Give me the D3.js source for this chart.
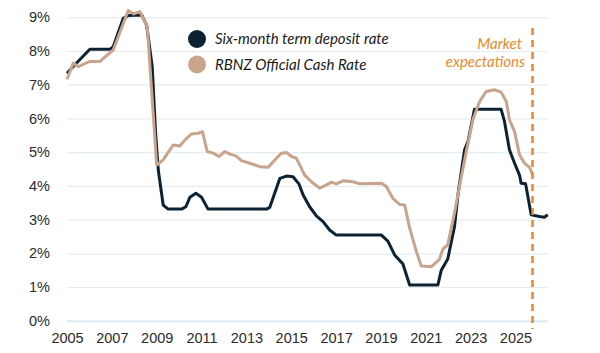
<!DOCTYPE html>
<html lang="en">
<head>
    <meta charset="UTF-8">
    <title>Term deposit rate vs OCR</title>
    <script src="https://d3js.org/d3.v7.min.js"></script>
    <style>
        body {
            margin: 0;
            background: #fff;
            font-family: Lato, "Open Sans", sans-serif;
        }
        svg {
            display: block;
        }
        .tick text {
            font-size: 14.5px;
            fill: #2b2b2b;
        }
        .grid line {
            stroke: #e6edf2;
            stroke-width: 1.2px;
        }
        .legend text {
            font-size: 15px;
            font-style: italic;
            fill: #1a1a1a;
        }
        .note {
            font-size: 15px;
            font-style: italic;
            fill: #e8892b;
        }
    </style>
</head>
<body>
    <svg width="600" height="353"></svg>

    <script>
        // Six-month term deposit rate (dark line)
        const depositYears = [2005.0, 2005.36, 2006.02, 2006.92, 2007.06, 2007.51, 2007.72, 2008.33, 2008.55, 2008.8, 2008.95,
            2009.07, 2009.29, 2009.51, 2010.11, 2010.30, 2010.48, 2010.75, 2011.0, 2011.29, 2013.90, 2014.04,
            2014.49, 2014.79, 2015.08, 2015.35, 2015.53, 2015.82, 2016.12, 2016.42, 2016.71, 2017.01, 2019.02,
            2019.31, 2019.61, 2019.98, 2020.28, 2021.54, 2021.69, 2021.98, 2022.28, 2022.45, 2022.73, 2022.88,
            2023.17, 2024.36, 2024.51, 2024.73, 2024.96, 2025.18, 2025.25, 2025.45, 2025.70, 2026.07, 2026.29, 2026.44];
        const depositRates = [7.34, 7.6, 8.05, 8.05, 8.13, 8.97, 9.05, 9.07, 8.77, 7.54, 5.57,
            4.47, 3.43, 3.31, 3.31, 3.38, 3.66, 3.78, 3.66, 3.31, 3.31, 3.36,
            4.22, 4.29, 4.27, 4.05, 3.73, 3.38, 3.11, 2.94, 2.69, 2.54, 2.54,
            2.36, 1.95, 1.68, 1.06, 1.06, 1.50, 1.83, 2.79, 3.82, 5.07, 5.31,
            6.27, 6.27, 5.91, 5.07, 4.67, 4.32, 4.08, 4.06, 3.14, 3.09, 3.07, 3.14];

        // RBNZ Official Cash Rate (tan line)
        const ocrYears = [2005.0, 2005.28, 2005.50, 2006.02, 2006.47, 2007.06, 2007.73, 2007.98, 2008.25, 2008.58,
            2009.0, 2009.29, 2009.73, 2010.03, 2010.26, 2010.55, 2010.85, 2011.04, 2011.25, 2011.52, 2011.78,
            2012.04, 2012.26, 2012.53, 2012.78, 2013.15, 2013.60, 2013.97, 2014.34, 2014.56, 2014.79, 2015.01,
            2015.23, 2015.60, 2015.90, 2016.27, 2016.57, 2016.79, 2017.01, 2017.31, 2017.75, 2018.05, 2019.02,
            2019.24, 2019.53, 2019.83, 2020.06, 2020.28, 2020.58, 2020.80, 2021.24, 2021.61, 2021.76, 2021.98,
            2022.28, 2022.52, 2022.80, 2023.10, 2023.40, 2023.69, 2024.06, 2024.36, 2024.59, 2024.73, 2024.96,
            2025.18, 2025.40, 2025.63, 2025.77];
        const ocrRates = [7.16, 7.64, 7.54, 7.69, 7.69, 8.03, 9.2, 9.1, 9.17, 8.72,
            4.62, 4.77, 5.21, 5.18, 5.36, 5.54, 5.56, 5.61, 5.02, 4.97, 4.87,
            5.02, 4.94, 4.89, 4.75, 4.67, 4.57, 4.55, 4.82, 4.97, 4.99, 4.87,
            4.82, 4.32, 4.12, 3.93, 4.03, 4.11, 4.06, 4.15, 4.12, 4.06, 4.08,
            3.98, 3.63, 3.45, 3.43, 2.75, 2.05, 1.62, 1.60, 1.82, 2.12, 2.25,
            3.19, 4.05, 5.0, 5.96, 6.50, 6.80, 6.85, 6.78, 6.50, 5.96, 5.61,
            4.92, 4.67, 4.55, 4.32];

        const yearTicks = [2005, 2007, 2009, 2011, 2013, 2015, 2017, 2019, 2021, 2023, 2025];
        const rateTicks = [0, 1, 2, 3, 4, 5, 6, 7, 8, 9];
        const expectationsFrom = 2025.76;

        const svg = d3.select("svg");

        const x = d3.scaleLinear().domain([2005, 2026.45]).range([67, 548]);
        const y = d3.scaleLinear().domain([0, 9]).range([320.7, 17.3]);

        // horizontal gridlines + y labels
        const yAxis = svg.append("g")
            .attr("class", "grid")
            .attr("transform", "translate(67,0)")
            .call(d3.axisLeft(y)
                .tickValues(rateTicks)
                .tickFormat(d => d + "%")
                .tickSize(-(548 - 67))
                .tickPadding(17));
        yAxis.select(".domain").remove();
        yAxis.selectAll(".tick line").filter(d => d === 0).style("stroke", "#dbe8f1").style("stroke-width", "2px");

        // x labels
        const xAxis = svg.append("g")
            .attr("transform", "translate(0,321)")
            .call(d3.axisBottom(x)
                .tickValues(yearTicks)
                .tickFormat(d3.format("d"))
                .tickSize(0)
                .tickPadding(12));
        xAxis.select(".domain").remove();

        const line = d3.line()
            .x(d => x(d[0]))
            .y(d => y(d[1]));

        const deposit = d3.zip(depositYears, depositRates);
        const ocr = d3.zip(ocrYears, ocrRates);

        svg.append("path")
            .datum(deposit)
            .attr("fill", "none")
            .attr("stroke", "#0c2232")
            .attr("stroke-width", 3)
            .attr("stroke-linejoin", "round")
            .attr("d", line);

        svg.append("path")
            .datum(ocr)
            .attr("fill", "none")
            .attr("stroke", "#c9a48d")
            .attr("stroke-width", 3)
            .attr("stroke-linejoin", "round")
            .attr("d", line);

        // market expectations marker
        svg.append("line")
            .attr("x1", x(expectationsFrom))
            .attr("x2", x(expectationsFrom))
            .attr("y1", 28)
            .attr("y2", 329)
            .attr("stroke", "#e8892b")
            .attr("stroke-width", 2.5)
            .attr("stroke-dasharray", "7,5");

        svg.append("text")
            .attr("class", "note")
            .attr("x", 522)
            .attr("y", 49)
            .attr("text-anchor", "end")
            .text("Market");
        svg.append("text")
            .attr("class", "note")
            .attr("x", 525)
            .attr("y", 67)
            .attr("text-anchor", "end")
            .text("expectations");

        // legend
        const legendItems = [
            { label: "Six-month term deposit rate", color: "#0c2232" },
            { label: "RBNZ Official Cash Rate", color: "#c9a48d" }
        ];
        const legend = svg.append("g").attr("class", "legend")
            .selectAll("g")
            .data(legendItems)
            .enter().append("g")
            .attr("transform", (d, i) => `translate(197,${39 + i * 25.5})`);
        legend.append("circle").attr("r", 9).attr("fill", d => d.color);
        legend.append("text").attr("x", 18).attr("dy", "0.35em").text(d => d.label);
    </script>
</body>
</html>
